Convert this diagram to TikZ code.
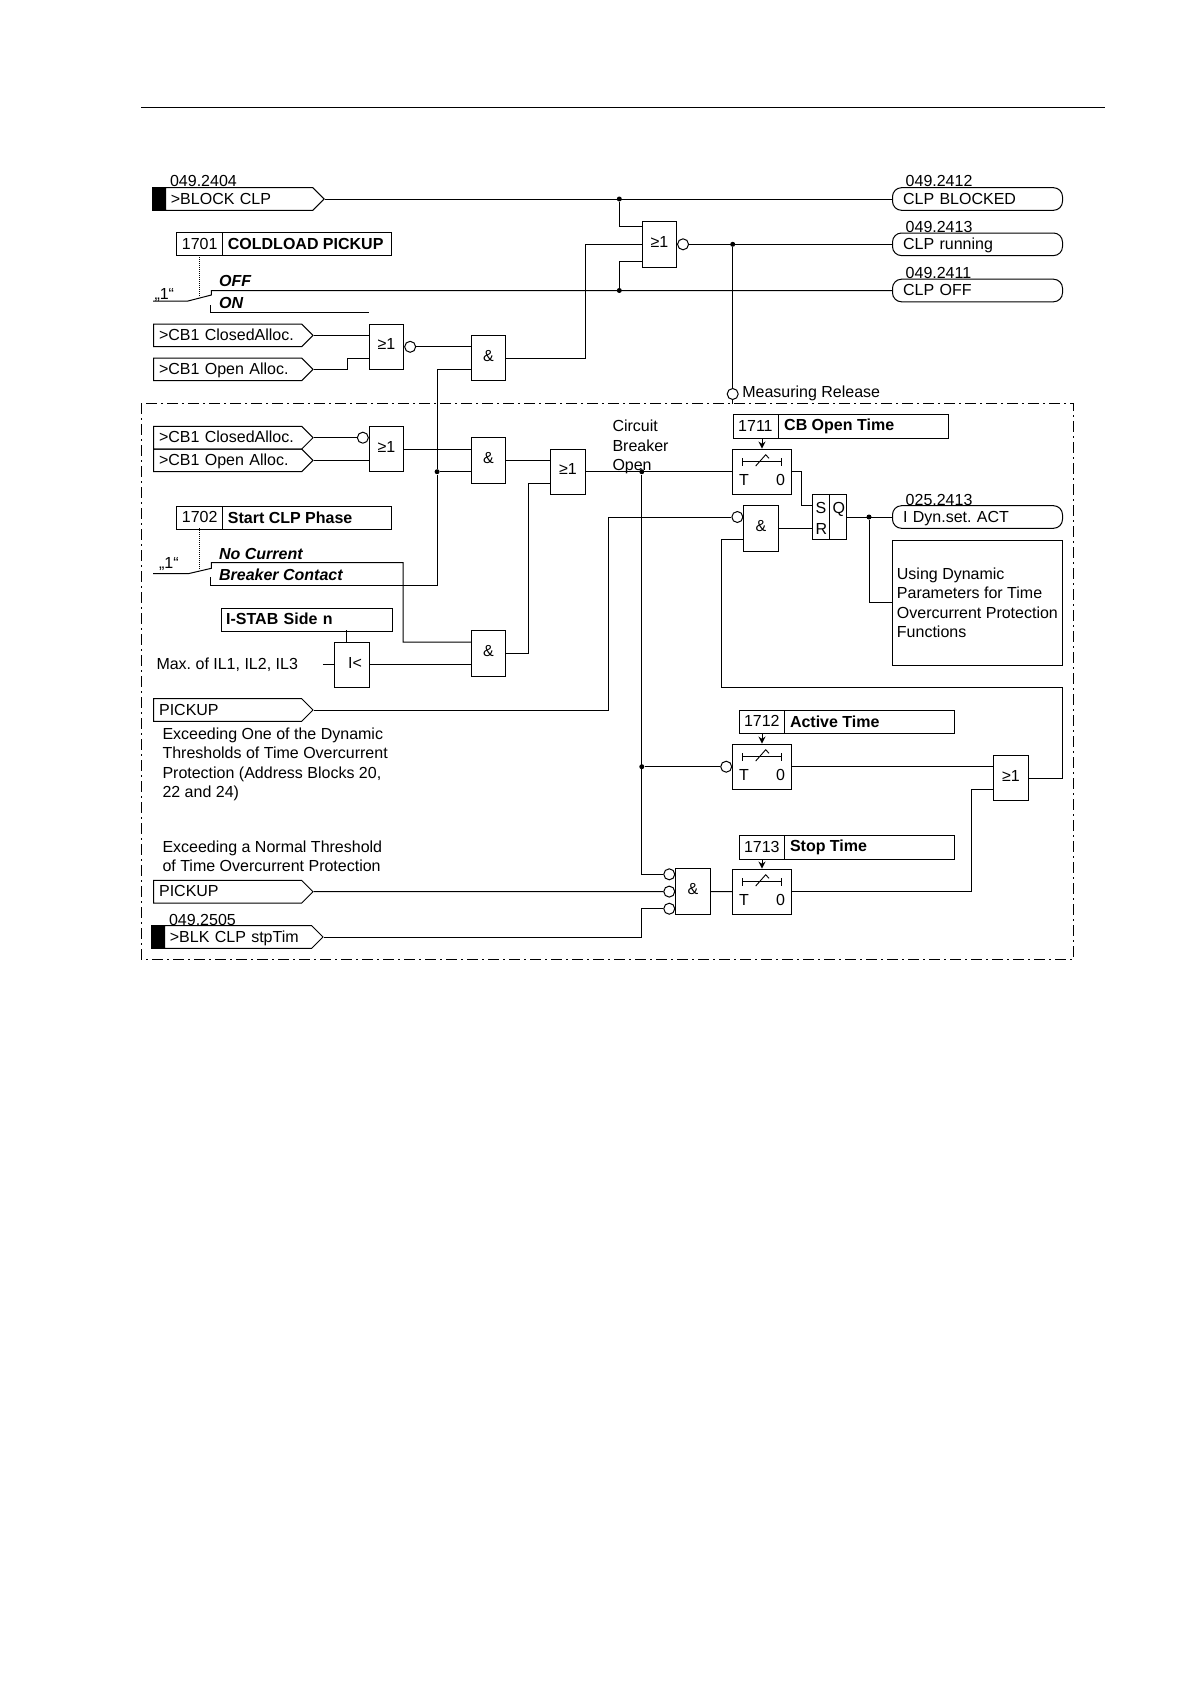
\documentclass[tikz,border=0pt]{standalone}
\usepackage{fontspec}
\setmainfont{Liberation Sans}
\usetikzlibrary{shapes.multipart,shapes.symbols,arrows.meta}
\frenchspacing

\newcommand{\paramtext}[2]{\makebox[35pt][l]{#1}\nodepart{two}\makebox[159pt][l]{\textbf{#2}}}

\begin{document}
\begin{tikzpicture}[x=1pt, y=-1pt, >={Stealth[length=7pt,width=7pt]}, line width=1pt,
    every node/.style={font=\fontsize{16}{19.3}\selectfont},
    gate/.style={draw, minimum width=34.3pt, minimum height=45.4pt, inner sep=0pt,
      text height=12pt, text depth=6pt},
    timer/.style={draw, minimum width=58.6pt, minimum height=45.3pt, inner sep=0pt,
      text width=46pt, text height=28pt, text depth=1.4pt},
    inv/.style={circle, draw, fill=white, inner sep=0pt, minimum size=11pt},
    dot/.style={circle, fill, inner sep=0pt, minimum size=5pt},
    input/.style={signal, draw, signal to=east, signal pointer angle=90, anchor=west,
      minimum height=22.6pt, inner xsep=5.4pt, inner ysep=0pt,
      text width=137.2pt, text height=11pt, text depth=1pt},
    blackend/.style={draw, fill=black, anchor=east, inner sep=0pt,
      minimum width=12pt, minimum height=22.6pt},
    output/.style={draw, rounded corners=9pt, anchor=west, minimum height=22.6pt,
      inner xsep=10.6pt, inner ysep=0pt, text width=148.8pt, text height=11pt, text depth=1pt},
    param/.style={rectangle split, rectangle split parts=2, rectangle split horizontal,
      draw, anchor=north west, inner xsep=5pt, inner ysep=4pt, text height=12.5pt, text depth=2.5pt},
    txt/.style={anchor=base west, inner sep=0pt},
    frame/.style={dash pattern=on 11pt off 4pt on 2pt off 4pt}]

  \useasboundingbox (0,0) rectangle (1190,1684);

  \draw (141.4,107.5) -- (1104.5,107.5);
  \draw[frame] (141.4,403.3) rectangle (1073.8,959.3);

  % signals in
  \node[input, text width=136.5pt] (blockclp) at (165,199) {>BLOCK CLP};
  \node[blackend] (blockend) at (blockclp.west) {};
  \node[txt] (no2404) at (169.6,186.7) {049.2404};
  \node[input] (cbclosedA) at (153.2,335.3) {>CB1 ClosedAlloc.};
  \node[input] (cbopenA) at (153.2,369.3) {>CB1 Open Alloc.};
  \node[input] (cbclosedB) at (153.2,437.7) {>CB1 ClosedAlloc.};
  \node[input] (cbopenB) at (153.2,460.3) {>CB1 Open Alloc.};
  \node[input] (pickupA) at (153.2,710) {PICKUP};
  \node[input] (pickupB) at (153.2,891.7) {PICKUP};
  \node[input, text width=136.4pt] (blkstop) at (164,937) {>BLK CLP stpTim};
  \node[blackend] (blkend) at (blkstop.west) {};
  \node[txt] (no2505) at (168.6,925) {049.2505};

  % signals out
  \node[output] (clpblocked) at (892,199) {CLP BLOCKED};
  \node[output] (clprun) at (892,244.3) {CLP running};
  \node[output] (clpoff) at (892,290.5) {CLP OFF};
  \node[output] (idyn) at (892,517) {I Dyn.set. ACT};
  \node[txt] (no2412) at (905.2,186.7) {049.2412};
  \node[txt] (no2413) at (905.2,232.3) {049.2413};
  \node[txt] (no2411) at (905.2,278) {049.2411};
  \node[txt] (no5413) at (905.2,505) {025.2413};

  % settings
  \node[param] (p1701) at (176.4,232.3) {\paramtext{1701}{COLDLOAD PICKUP}};
  \node[param] (p1702) at (176.4,505.7) {\paramtext{1702}{Start CLP Phase}};
  \node[param] (p1711) at (732.7,414.3) {\paramtext{1711}{CB Open Time}};
  \node[param] (p1712) at (738.5,709.7) {\paramtext{1712}{Active Time}};
  \node[param] (p1713) at (738.5,835) {\paramtext{1713}{Stop Time}};
  \node[draw, anchor=north west, minimum width=170.4pt, minimum height=23pt, inner xsep=4.3pt,
    inner ysep=0pt, text width=161.8pt, text height=12.5pt, text depth=2.5pt] (istab)
    at (221.4,607.7) {\textbf{I-STAB Side n}};

  % gates
  \node[gate, minimum height=46pt] (gtop) at (659.4,244.3) {≥1};
  \node[gate] (gA) at (386.5,346.8) {≥1};
  \node[gate] (gB) at (488.5,358) {\&};
  \node[gate] (gC) at (386.5,449) {≥1};
  \node[gate] (gD) at (488.5,460.3) {\&};
  \node[gate] (gE) at (568,471.7) {≥1};
  \node[gate] (gF) at (488.5,653.3) {\&};
  \node[gate, text depth=4pt] (gless) at (352.1,664.8) {\hspace{6pt}I<};
  \node[gate] (gG) at (761,528.3) {\&};
  \node[gate] (gH) at (1010.9,778.1) {≥1};
  \node[gate] (gI) at (692.9,891.6) {\&};
  \node[gate] (srff) at (829.5,517) {};
  \draw (srff.north) -- (srff.south);
  \node[txt] (srS) at (815.2,513.3) {S};
  \node[txt] (srR) at (815.2,534) {R};
  \node[txt] (srQ) at (832,513.3) {Q};

  \node[timer] (tA) at (762,471.7) {T\hfill 0};
  \node[timer] (tB) at (762,766.7) {T\hfill 0};
  \node[timer] (tC) at (762,891.7) {T\hfill 0};

  \foreach \t in {tA,tB,tC} {
    \begin{scope}[shift={(\t.center)}, line width=0.9pt]
      \draw (-19.7,-13.7) -- (-19.7,-6);
      \draw (19.7,-13.7) -- (19.7,-6);
      \draw (-19.7,-10) -- (19.7,-10);
      \draw (-6.3,-5.7) -- (3.7,-17) -- (7,-13.4);
    \end{scope}
  }

  % negated inputs and outputs
  \node[inv, anchor=west] (ntop) at (gtop.east) {};
  \node[inv, anchor=west] (nA) at (gA.east) {};
  \node[inv, anchor=east] (nC) at (gC.west |- cbclosedB.east) {};
  \node[inv, anchor=east] (nG) at ([yshift=11.3pt]gG.west) {};
  \node[inv, anchor=east] (nB) at (tB.west) {};
  \node[inv, anchor=east] (nIa) at ([yshift=17.3pt]gI.west) {};
  \node[inv, anchor=east] (nIb) at (gI.west) {};
  \node[inv, anchor=east] (nIc) at ([yshift=-17.1pt]gI.west) {};
  \node[inv] (nmeas) at (732.7,394) {};

  % junctions
  \node[dot] (dblock) at (619.3,199) {};
  \node[dot] (doff) at (619.3,290.5) {};
  \node[dot] (drun) at (732.7,244.3) {};
  \node[dot] (dbc) at (437.1,471.7) {};
  \node[dot] (dopen) at (641.8,471.7) {};
  \node[dot] (dactive) at (641.8,766.7) {};
  \node[dot] (dq) at (869,517) {};

  % text
  \node[txt] (offtxt) at (218.6,286.7) {\bfseries\itshape OFF};
  \node[txt] (ontxt) at (218.6,308.3) {\bfseries\itshape ON};
  \node[txt] (one1) at (154,299) {„1“};
  \node[txt] (nocur) at (218.6,559.3) {\bfseries\itshape No Current};
  \node[txt] (bccon) at (218.6,580.7) {\bfseries\itshape Breaker Contact};
  \node[txt] (one2) at (158.6,568) {„1“};
  \node[txt] (meas) at (741.8,397.7) {Measuring Release};
  \node[txt] (maxil) at (156,669.3) {Max. of IL1, IL2, IL3};
  \node[anchor=north west, inner sep=0pt, align=left] (cbopentxt) at (612,419.6)
    {Circuit\\Breaker\\Open};
  \node[anchor=north west, inner sep=0pt, align=left] (dyntxt) at (162,727.5)
    {Exceeding One of the Dynamic\\Thresholds of Time Overcurrent\\Protection (Address Blocks 20,\\22 and 24)};
  \node[anchor=north west, inner sep=0pt, align=left] (normtxt) at (162,840.5)
    {Exceeding a Normal Threshold\\of Time Overcurrent Protection};
  \node[draw, anchor=north west, minimum width=170.6pt, minimum height=125pt, inner sep=0pt,
    align=left] (dynbox) at (891.6,539.7)
    {Using Dynamic\\Parameters for Time\\Overcurrent Protection\\Functions};

  % switches
  \coordinate (swAin) at (153.2,301);
  \coordinate (swAknee) at (188,301);
  \coordinate (swAtip) at (211.4,295);
  \coordinate (swAoff) at (211.4,290.5);
  \coordinate (swAon) at (210.7,305);
  \coordinate (swAend) at (369.3,312);
  \coordinate (swBin) at (153.2,573.7);
  \coordinate (swBknee) at (188.2,573.7);
  \coordinate (swBtip) at (211.4,568.3);
  \coordinate (swBtop) at (211.4,562.5);
  \coordinate (swBlow) at (210.7,577);
  \coordinate (bcturn) at (437.1,585);
  \coordinate (lessin) at (322.9,664.8);
  \coordinate (backturn) at (721.5,687.5);

  \draw (swAin) -- (swAknee) -- (swAtip) -- (swAoff) -- (clpoff.west);
  \draw (swAon) |- (swAend);
  \draw[densely dotted] (199,255.3) -- (199,297);
  \draw (swBin) -- (swBknee) -- (swBtip) -- (swBtop) -- ++(191.8,0) |- ([yshift=11.3pt]gF.west);
  \draw (swBlow) |- (bcturn) -- (dbc) |- ([yshift=-11.3pt]gB.west);
  \draw[densely dotted] (199,528.3) -- (199,570);

  % wires
  \draw (blockclp.east) -- (clpblocked.west);
  \draw (dblock) |- ([yshift=-6pt]gtop.north west);
  \draw (doff) |- ([yshift=6pt]gtop.south west);
  \draw (ntop.east) -- (clprun.west);
  \draw (drun) -- (nmeas.north);
  \draw (nmeas.south) -- ++(0,4);
  \draw (cbclosedA.east) -- (gA.west |- cbclosedA.east);
  \draw (cbopenA.east) -- ++(33.9,0) |- ([yshift=-11.3pt]gA.west);
  \draw (nA.east) -- (gB.west |- nA.east);
  \draw (gB.east) -- ++(78.9,0) |- (gtop.west);
  \draw (cbclosedB.east) -- (nC.west);
  \draw (cbopenB.east) -- (gC.west |- cbopenB.east);
  \draw (gC.east) -- (gD.west |- gC.east);
  \draw (dbc) -- (gD.west |- dbc);
  \draw (gD.east) -- (gE.west |- gD.east);
  \draw (gE.east) -- (tA.west);
  \draw (dopen) |- (nIa.west);
  \draw (dactive) -- (nB.west);
  \draw ([xshift=-5.7pt]gless.north) -- ++(0,-11.6);
  \draw (lessin) -- (gless.west);
  \draw (gless.east) -- (gF.west |- gless.east);
  \draw (gF.east) -- ++(22.5,0) |- ([yshift=-11.3pt]gE.west);
  \draw (pickupA.east) -- ++(295,0) |- (nG.west);
  \draw (pickupB.east) -- (nIb.west);
  \draw (blkstop.east) -- ++(318,0) |- (nIc.west);
  \draw (gI.east) -- (tC.west);
  \draw (tA.east) -- ++(9.4,0) |- ([yshift=-11.4pt]srff.north west);
  \draw (gG.east) -- (srff.west |- gG.east);
  \draw (srff.east) -- (idyn.west);
  \draw (dq) |- (dynbox.west);
  \draw (gH.east) -- ++(34.2,0) |- (backturn) |- ([yshift=-11.3pt]gG.west);
  \draw (tB.east) -- (gH.west |- tB.east);
  \draw (tC.east) -- ++(180,0) |- ([yshift=-11.3pt]gH.west);
  \draw[->] (tA.north |- p1711.south) -- (tA.north);
  \draw[->] (tB.north |- p1712.south) -- (tB.north);
  \draw[->] (tC.north |- p1713.south) -- (tC.north);
\end{tikzpicture}
\end{document}
